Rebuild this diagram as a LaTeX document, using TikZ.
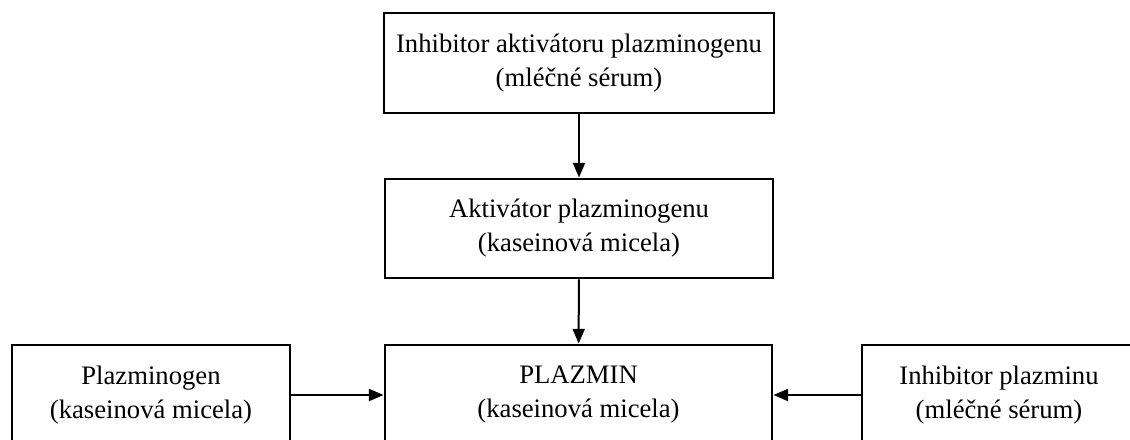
\documentclass[tikz,border=0pt]{standalone}
\usepackage{fontspec}
\setmainfont{Liberation Serif}
\usetikzlibrary{arrows.meta}

\tikzset{
  krabice/.style={draw,line width=2.2pt,rectangle,align=center,inner sep=0pt,
    font=\fontsize{20}{25.5}\selectfont},
  sipka/.style={line width=1.5pt,-{Triangle[length=11pt,width=9pt]}}
}

\begin{document}
\begin{tikzpicture}[x=0.75pt,y=-0.75pt]
\useasboundingbox (0,0) rectangle (1130,439);
\clip (0,0) rectangle (1130,439);
\node[krabice,minimum width=292.5pt,minimum height=75pt](inhib) at (579,63)
  {Inhibitor aktivátoru plazminogenu\\(mléčné sérum)};
\node[krabice,minimum width=291pt,minimum height=74.25pt](aktiv) at (579,228.5)
  {Aktivátor plazminogenu\\(kaseinová micela)};
\node[krabice,minimum width=290.25pt,minimum height=75pt](plazmin) at (578.5,395)
  {PLAZMIN\\(kaseinová micela)};
\node[krabice,minimum width=208.5pt,minimum height=75pt](plgen) at (151,395)
  {Plazminogen\\(kaseinová micela)};
\node[krabice,minimum width=205.5pt,minimum height=75pt](inhibpl) at (999,395)
  {Inhibitor plazminu\\(mléčné sérum)};
\draw[sipka] (inhib) -- (aktiv);
\draw[sipka] (aktiv) -- (plazmin);
\draw[sipka] (plgen) -- (plazmin);
\draw[sipka] (inhibpl) -- (plazmin);
\end{tikzpicture}
\end{document}
